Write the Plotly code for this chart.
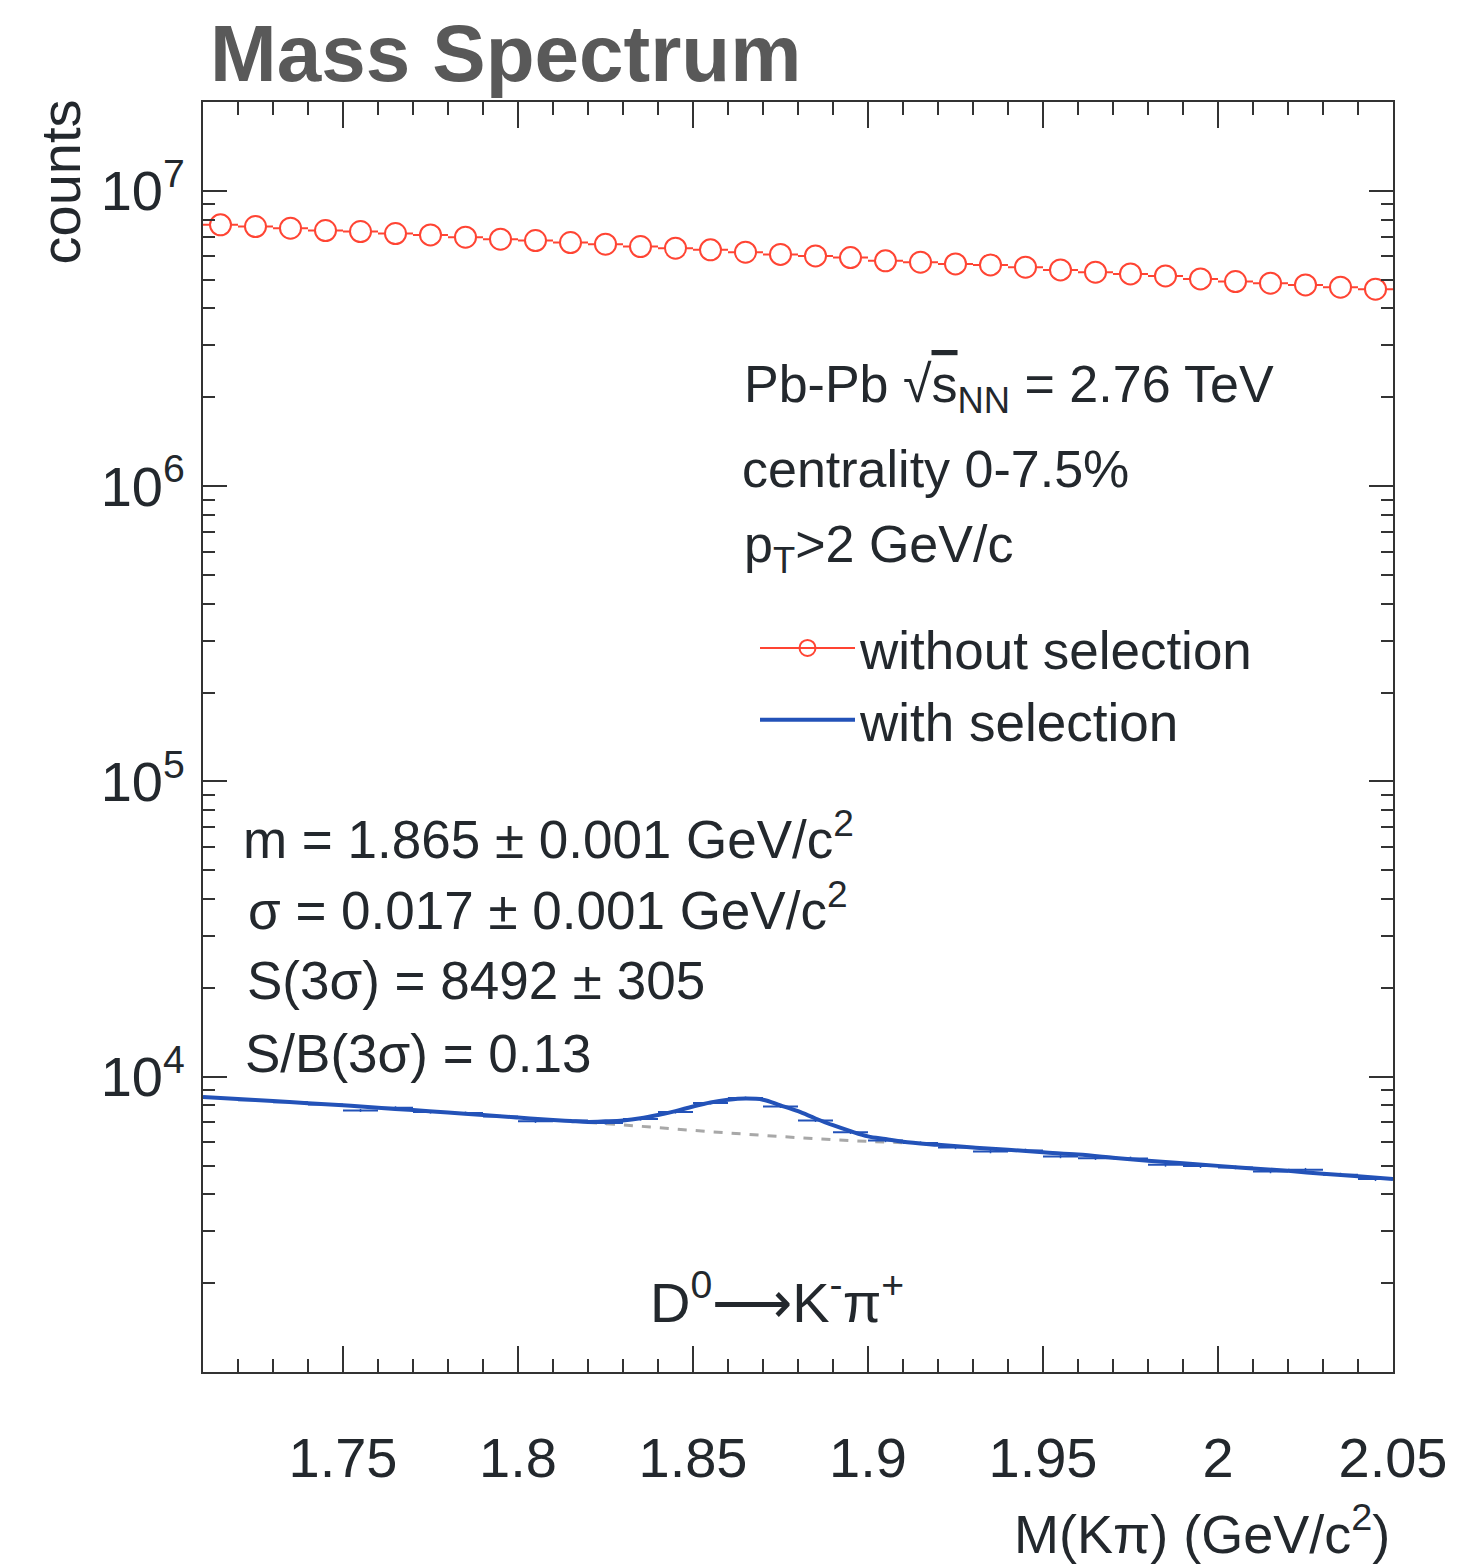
import plotly.graph_objects as go

# ---------------- data ----------------
bin_centers = [1.715, 1.725, 1.735, 1.745, 1.755, 1.765, 1.775, 1.785, 1.795, 1.805,
               1.815, 1.825, 1.835, 1.845, 1.855, 1.865, 1.875, 1.885, 1.895, 1.905,
               1.915, 1.925, 1.935, 1.945, 1.955, 1.965, 1.975, 1.985, 1.995, 2.005,
               2.015, 2.025, 2.035, 2.045]
bin_halfwidth = [0.005] * 34

counts_without = [7.673e6, 7.571e6, 7.477e6, 7.338e6, 7.281e6, 7.168e6, 7.096e6, 6.970e6,
                  6.862e6, 6.787e6, 6.682e6, 6.600e6, 6.478e6, 6.397e6, 6.313e6, 6.200e6,
                  6.095e6, 6.024e6, 5.944e6, 5.794e6, 5.735e6, 5.659e6, 5.615e6, 5.515e6,
                  5.401e6, 5.305e6, 5.235e6, 5.154e6, 5.035e6, 4.930e6, 4.868e6, 4.805e6,
                  4.719e6, 4.647e6]

counts_with = [8470, 8320, 8200, 8060, 7690, 7850, 7590, 7530, 7340, 7060,
               7110, 6970, 7190, 7590, 8150, 8470, 7930, 7110, 6480, 6080,
               5960, 5760, 5580, 5630, 5370, 5300, 5290, 5030, 4980, 4930,
               4780, 4840, 4660, 4500]
counts_with_err = [92, 91, 91, 90, 88, 89, 87, 87, 86, 84,
                   84, 83, 85, 87, 90, 92, 89, 84, 80, 78,
                   77, 76, 75, 75, 73, 73, 73, 71, 71, 70,
                   69, 70, 68, 67]

fit_x = [1.71, 1.72, 1.73, 1.74, 1.75, 1.76, 1.77, 1.78, 1.79, 1.80, 1.81, 1.815,
         1.82, 1.825, 1.83, 1.835, 1.84, 1.845, 1.85, 1.855, 1.86, 1.865, 1.87, 1.875,
         1.88, 1.885, 1.89, 1.895, 1.90, 1.905, 1.91, 1.92, 1.93, 1.94, 1.95, 1.96,
         1.97, 1.98, 1.99, 2.00, 2.01, 2.02, 2.03, 2.04, 2.05]
fit_y = [8540, 8400, 8270, 8130, 8000, 7850, 7710, 7560, 7420, 7270, 7140, 7080,
         7030, 7060, 7110, 7230, 7420, 7650, 7930, 8180, 8350, 8430, 8360, 8000,
         7640, 7220, 6850, 6540, 6280, 6150, 6020, 5880, 5760, 5660, 5550, 5450,
         5320, 5190, 5090, 4990, 4890, 4800, 4690, 4600, 4500]

bkg_x = [1.82, 1.83, 1.84, 1.85, 1.86, 1.87, 1.88, 1.89, 1.90, 1.91]
bkg_y = [7000, 6870, 6720, 6580, 6450, 6330, 6220, 6120, 6040, 5980]

x_tickvals = [1.75, 1.8, 1.85, 1.9, 1.95, 2.0, 2.05]
x_ticktext = ["1.75", "1.8", "1.85", "1.9", "1.95", "2", "2.05"]
y_tickvals = [1e4, 1e5, 1e6, 1e7]
y_ticktext = ["10<sup>4</sup>", "10<sup>5</sup>", "10<sup>6</sup>", "10<sup>7</sup>"]

# ---------------- styling ----------------
RED = "#ff4433"
BLUE = "#2352b8"
TXT = "#23282d"
FONT = "Liberation Sans, Arial, Helvetica, sans-serif"

W, H = 1459, 1567
L, R, T, B = 203, 1393, 102, 1372


def px(xp):
    return (xp - L) / (R - L)


def py(yp):
    return (B - yp) / (B - T)


fig = go.Figure()

# background (dashed)
fig.add_trace(go.Scatter(x=bkg_x, y=bkg_y, mode="lines", showlegend=False,
                         line=dict(color="#a8a8a8", width=3, dash="dash", shape="spline"),
                         hoverinfo="skip"))

# with selection data (error bars)
fig.add_trace(go.Scatter(x=bin_centers, y=counts_with, mode="markers", showlegend=False,
                         marker=dict(size=1, color=BLUE),
                         error_x=dict(type="data", array=bin_halfwidth, color=BLUE, thickness=2, width=0),
                         error_y=dict(type="data", array=counts_with_err, color=BLUE, thickness=1.5, width=0)))

# without selection data
fig.add_trace(go.Scatter(x=bin_centers, y=counts_without, mode="markers", showlegend=False,
                         marker=dict(symbol="circle", size=21, color="white",
                                     line=dict(color=RED, width=2)),
                         error_x=dict(type="data", array=bin_halfwidth, color=RED, thickness=2, width=0)))

# legend entries
fig.add_trace(go.Scatter(x=[None], y=[None], mode="lines+markers", name="without selection",
                         line=dict(color=RED, width=2),
                         marker=dict(symbol="circle-open", size=21, color=RED, line=dict(width=2))))

# fit curve
fig.add_trace(go.Scatter(x=fit_x, y=fit_y, mode="lines", name="with selection",
                         line=dict(color=BLUE, width=4, shape="spline")))

axis_common = dict(showline=True, linecolor="#333333", linewidth=2, mirror="allticks",
                   ticks="inside", tickcolor="#333333", tickwidth=2,
                   showgrid=False, zeroline=False)

fig.update_xaxes(range=[1.71, 2.05], tickvals=x_tickvals, ticktext=x_ticktext, ticklen=26,
                 tickfont=dict(family=FONT, size=56, color=TXT), ticklabelstandoff=36,
                 minor=dict(dtick=0.01, ticks="inside", ticklen=13, tickwidth=2, tickcolor="#333333",
                            showgrid=False),
                 **axis_common)
fig.update_yaxes(type="log", range=[3, 7.30103], tickvals=y_tickvals, ticktext=y_ticktext, ticklen=24,
                 tickfont=dict(family=FONT, size=56, color=TXT), ticklabelstandoff=5,
                 minor=dict(tickvals=[k * 10 ** e for e in range(3, 8) for k in range(2, 10)],
                            ticks="inside", ticklen=12, tickwidth=2, tickcolor="#333333", showgrid=False),
                 **axis_common)

ann = []
# title
ann.append(dict(text="<b>Mass Spectrum</b>", x=px(208), y=py(100), xanchor="left", yanchor="bottom",
                font=dict(family=FONT, size=80, color="#595959")))
# y title
ann.append(dict(text="counts", textangle=-90, x=px(60), y=py(98), xanchor="center", yanchor="top",
                font=dict(family=FONT, size=56, color=TXT)))
# x title
ann.append(dict(text="M(Kπ) (GeV/c<sup>2</sup>)", x=px(1392), y=py(1530), xanchor="right", yanchor="middle",
                font=dict(family=FONT, size=54, color=TXT)))
# info block
info = [("Pb-Pb √<span style='text-decoration:overline'>s</span><sub>NN</sub> = 2.76 TeV", 742, 388),
        ("centrality 0-7.5%", 740, 469),
        ("p<sub>T</sub>>2 GeV/c", 742, 548)]
for t, xx, yy in info:
    ann.append(dict(text=t, x=px(xx), y=py(yy), xanchor="left", yanchor="middle",
                    font=dict(family=FONT, size=52, color=TXT)))
stats = [("m = 1.865 ± 0.001 GeV/c<sup>2</sup>", 241, 836),
         ("σ = 0.017 ± 0.001 GeV/c<sup>2</sup>", 246, 906),
         ("S(3σ) = 8492 ± 305", 245, 980),
         ("S/B(3σ) = 0.13", 243, 1053)]
for t, xx, yy in stats:
    ann.append(dict(text=t, x=px(xx), y=py(yy), xanchor="left", yanchor="middle",
                    font=dict(family=FONT, size=53, color=TXT)))
ann.append(dict(text="D<sup>0</sup>⟶K<sup>-</sup>π<sup>+</sup>", x=px(648), y=py(1298), xanchor="left",
                yanchor="middle", font=dict(family=FONT, size=56, color=TXT)))
for a in ann:
    a.update(xref="paper", yref="paper", showarrow=False)

fig.update_layout(
    width=W, height=H,
    margin=dict(l=L, r=W - R, t=T, b=H - B, pad=0),
    paper_bgcolor="white", plot_bgcolor="white",
    font=dict(family=FONT, color=TXT),
    showlegend=True,
    legend=dict(x=px(755), y=py(607), xanchor="left", yanchor="top",
                font=dict(family=FONT, size=53, color=TXT), bgcolor="rgba(0,0,0,0)",
                itemwidth=95, tracegroupgap=0),
    annotations=ann,
)

fig.write_html("out.html")
